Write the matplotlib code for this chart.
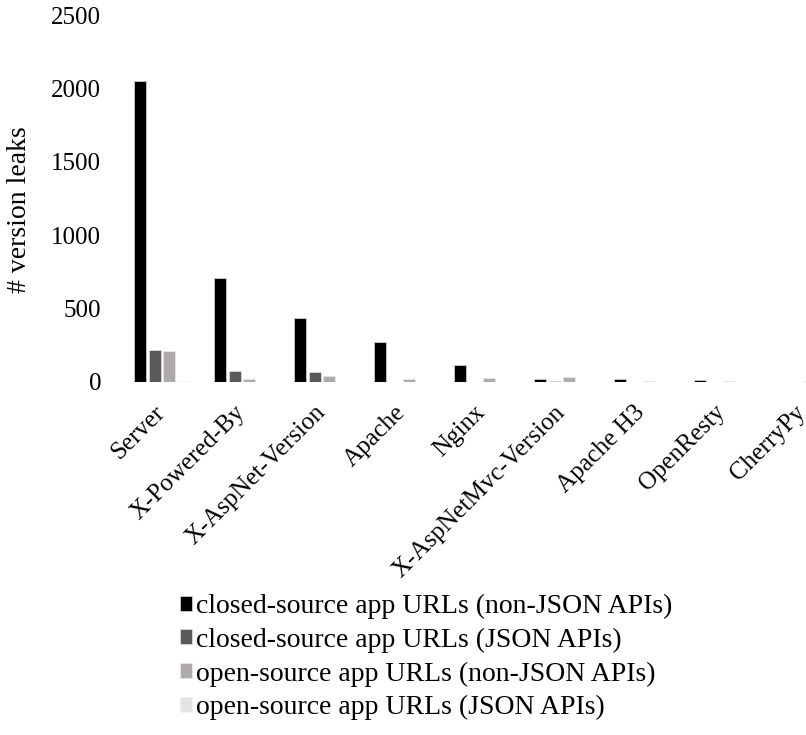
import numpy as np
import matplotlib.pyplot as plt
import matplotlib.transforms as mtrans

plt.rcParams['font.family'] = ['Liberation Serif', 'DejaVu Serif']

# ---------------------------------- data ----------------------------------
headers = ['Server', 'X-Powered-By', 'X-AspNet-Version', 'Apache', 'Nginx',
           'X-AspNetMvc-Version', 'Apache H3', 'OpenResty', 'CherryPy']

closed_nonjson = [2050, 707, 432, 271, 111, 18, 18, 14, 0]
closed_json = [215, 75, 64, 0, 0, 4, 0, 0, 0]
open_nonjson = [207, 16, 39, 20, 22, 32, 5, 6, 4]
open_json = [4, 0, 0, 0, 0, 0, 0, 0, 0]

series_names = ['closed-source app URLs (non-JSON APIs)',
                'closed-source app URLs (JSON APIs)',
                'open-source app URLs (non-JSON APIs)',
                'open-source app URLs (JSON APIs)']
series_colors = ['#000000', '#595959', '#aeaaaa', '#e4e4e4']
yticks = [0, 500, 1000, 1500, 2000, 2500]

# ---------------------------------- plot ----------------------------------
W, H = 806, 735
fig = plt.figure(figsize=(W / 100, H / 100), dpi=100)
# plot area runs past the right edge of the picture (cropped in the original)
left, right, top, bottom = 122, 842, 15.2, 381.7
ax = fig.add_axes([left / W, 1 - bottom / H, (right - left) / W, (bottom - top) / H])

x = np.arange(len(headers))
slot = 0.1825
bw = 0.146
all_series = [closed_nonjson, closed_json, open_nonjson, open_json]
for i, vals in enumerate(all_series):
    ax.bar(x + (i - 1.5) * slot, vals, bw, color=series_colors[i],
           edgecolor='#f2f2f2', linewidth=0.4, label=series_names[i])

ax.set_xlim(-0.5, len(headers) - 0.5)
ax.set_ylim(0, 2500)
ax.set_yticks(yticks)
ax.set_yticklabels([str(t) for t in yticks], fontsize=18)
ax.tick_params(axis='y', length=0, pad=15)
ax.set_xticks(x)
ax.set_xticklabels(headers, fontsize=18, rotation=45, ha='right',
                   rotation_mode='anchor')
ax.tick_params(axis='x', length=0, pad=14)
shift = mtrans.ScaledTranslation(-8 / 100, 0, fig.dpi_scale_trans)
for lab in ax.get_xticklabels():
    lab.set_transform(lab.get_transform() + shift)
for s in ax.spines.values():
    s.set_visible(False)

fig.text(20 / W, 1 - 210 / H, '# version leaks', rotation=90, fontsize=20,
         ha='center', va='center')

fig.legend(loc='upper left', bbox_to_anchor=(166 / W, 1 - 580 / H),
           frameon=False, fontsize=20, handlelength=0.45, handleheight=0.45,
           handletextpad=0.12, labelspacing=0.31, borderpad=0)

fig.savefig('out.png', dpi=100)
